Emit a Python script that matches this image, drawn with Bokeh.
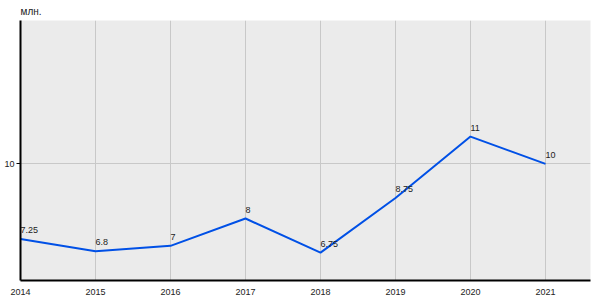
from bokeh.plotting import figure
from bokeh.models import Range1d, FixedTicker, ColumnDataSource
from bokeh.embed import file_html
from bokeh.resources import INLINE
from bokeh.core.properties import value

years = [2014, 2015, 2016, 2017, 2018, 2019, 2020, 2021]
values = [7.25, 6.8, 7.0, 8.0, 6.75, 8.75, 11.0, 10.0]
labels = ["7.25", "6.8", "7", "8", "6.75", "8.75", "11", "10"]
y_ticks = [10]
unit = "млн."

FONT = "Liberation Sans"

p = figure(width=600, height=300, output_backend="svg", toolbar_location=None,
           x_range=Range1d(2014, 2021.6), y_range=Range1d(5.73, 15.25),
           min_border_left=20, min_border_right=10, min_border_top=0, min_border_bottom=20)
p.title.text = unit
p.title.text_font = FONT
p.title.text_font_size = "10px"
p.title.text_font_style = "normal"
p.title.text_color = "#222222"
p.title.offset = 0
p.title.standoff = 7
p.outline_line_color = None
p.background_fill_color = "#EBEBEB"
p.border_fill_color = "white"

p.xaxis.ticker = FixedTicker(ticks=years)
p.yaxis.ticker = FixedTicker(ticks=y_ticks)
for ax in (p.xaxis[0], p.yaxis[0]):
    ax.axis_line_color = "black"
    ax.axis_line_width = 2
    ax.major_label_text_font = FONT
    ax.major_label_text_font_size = "9px"
    ax.major_label_text_color = "#222222"
    ax.minor_tick_line_color = None
p.xaxis.major_tick_line_color = None
p.xaxis.major_label_standoff = 2
p.yaxis.major_tick_line_color = "black"
p.yaxis.major_tick_out = 4
p.yaxis.major_tick_in = 0
p.yaxis.major_label_standoff = 2

p.xgrid.ticker = FixedTicker(ticks=years)
p.ygrid.ticker = FixedTicker(ticks=y_ticks)
p.grid.grid_line_color = "#C8C8C8"
p.grid.grid_line_width = 1

src = ColumnDataSource(dict(x=years, y=values, t=labels))
p.line("x", "y", source=src, line_color="#0050E6", line_width=2)
p.text("x", "y", text="t", source=src, text_font=value(FONT), text_font_size="9px",
       text_color="#222222", text_align="left", text_baseline="bottom", y_offset=-6)

open("out.html", "w").write(file_html(p, INLINE))
